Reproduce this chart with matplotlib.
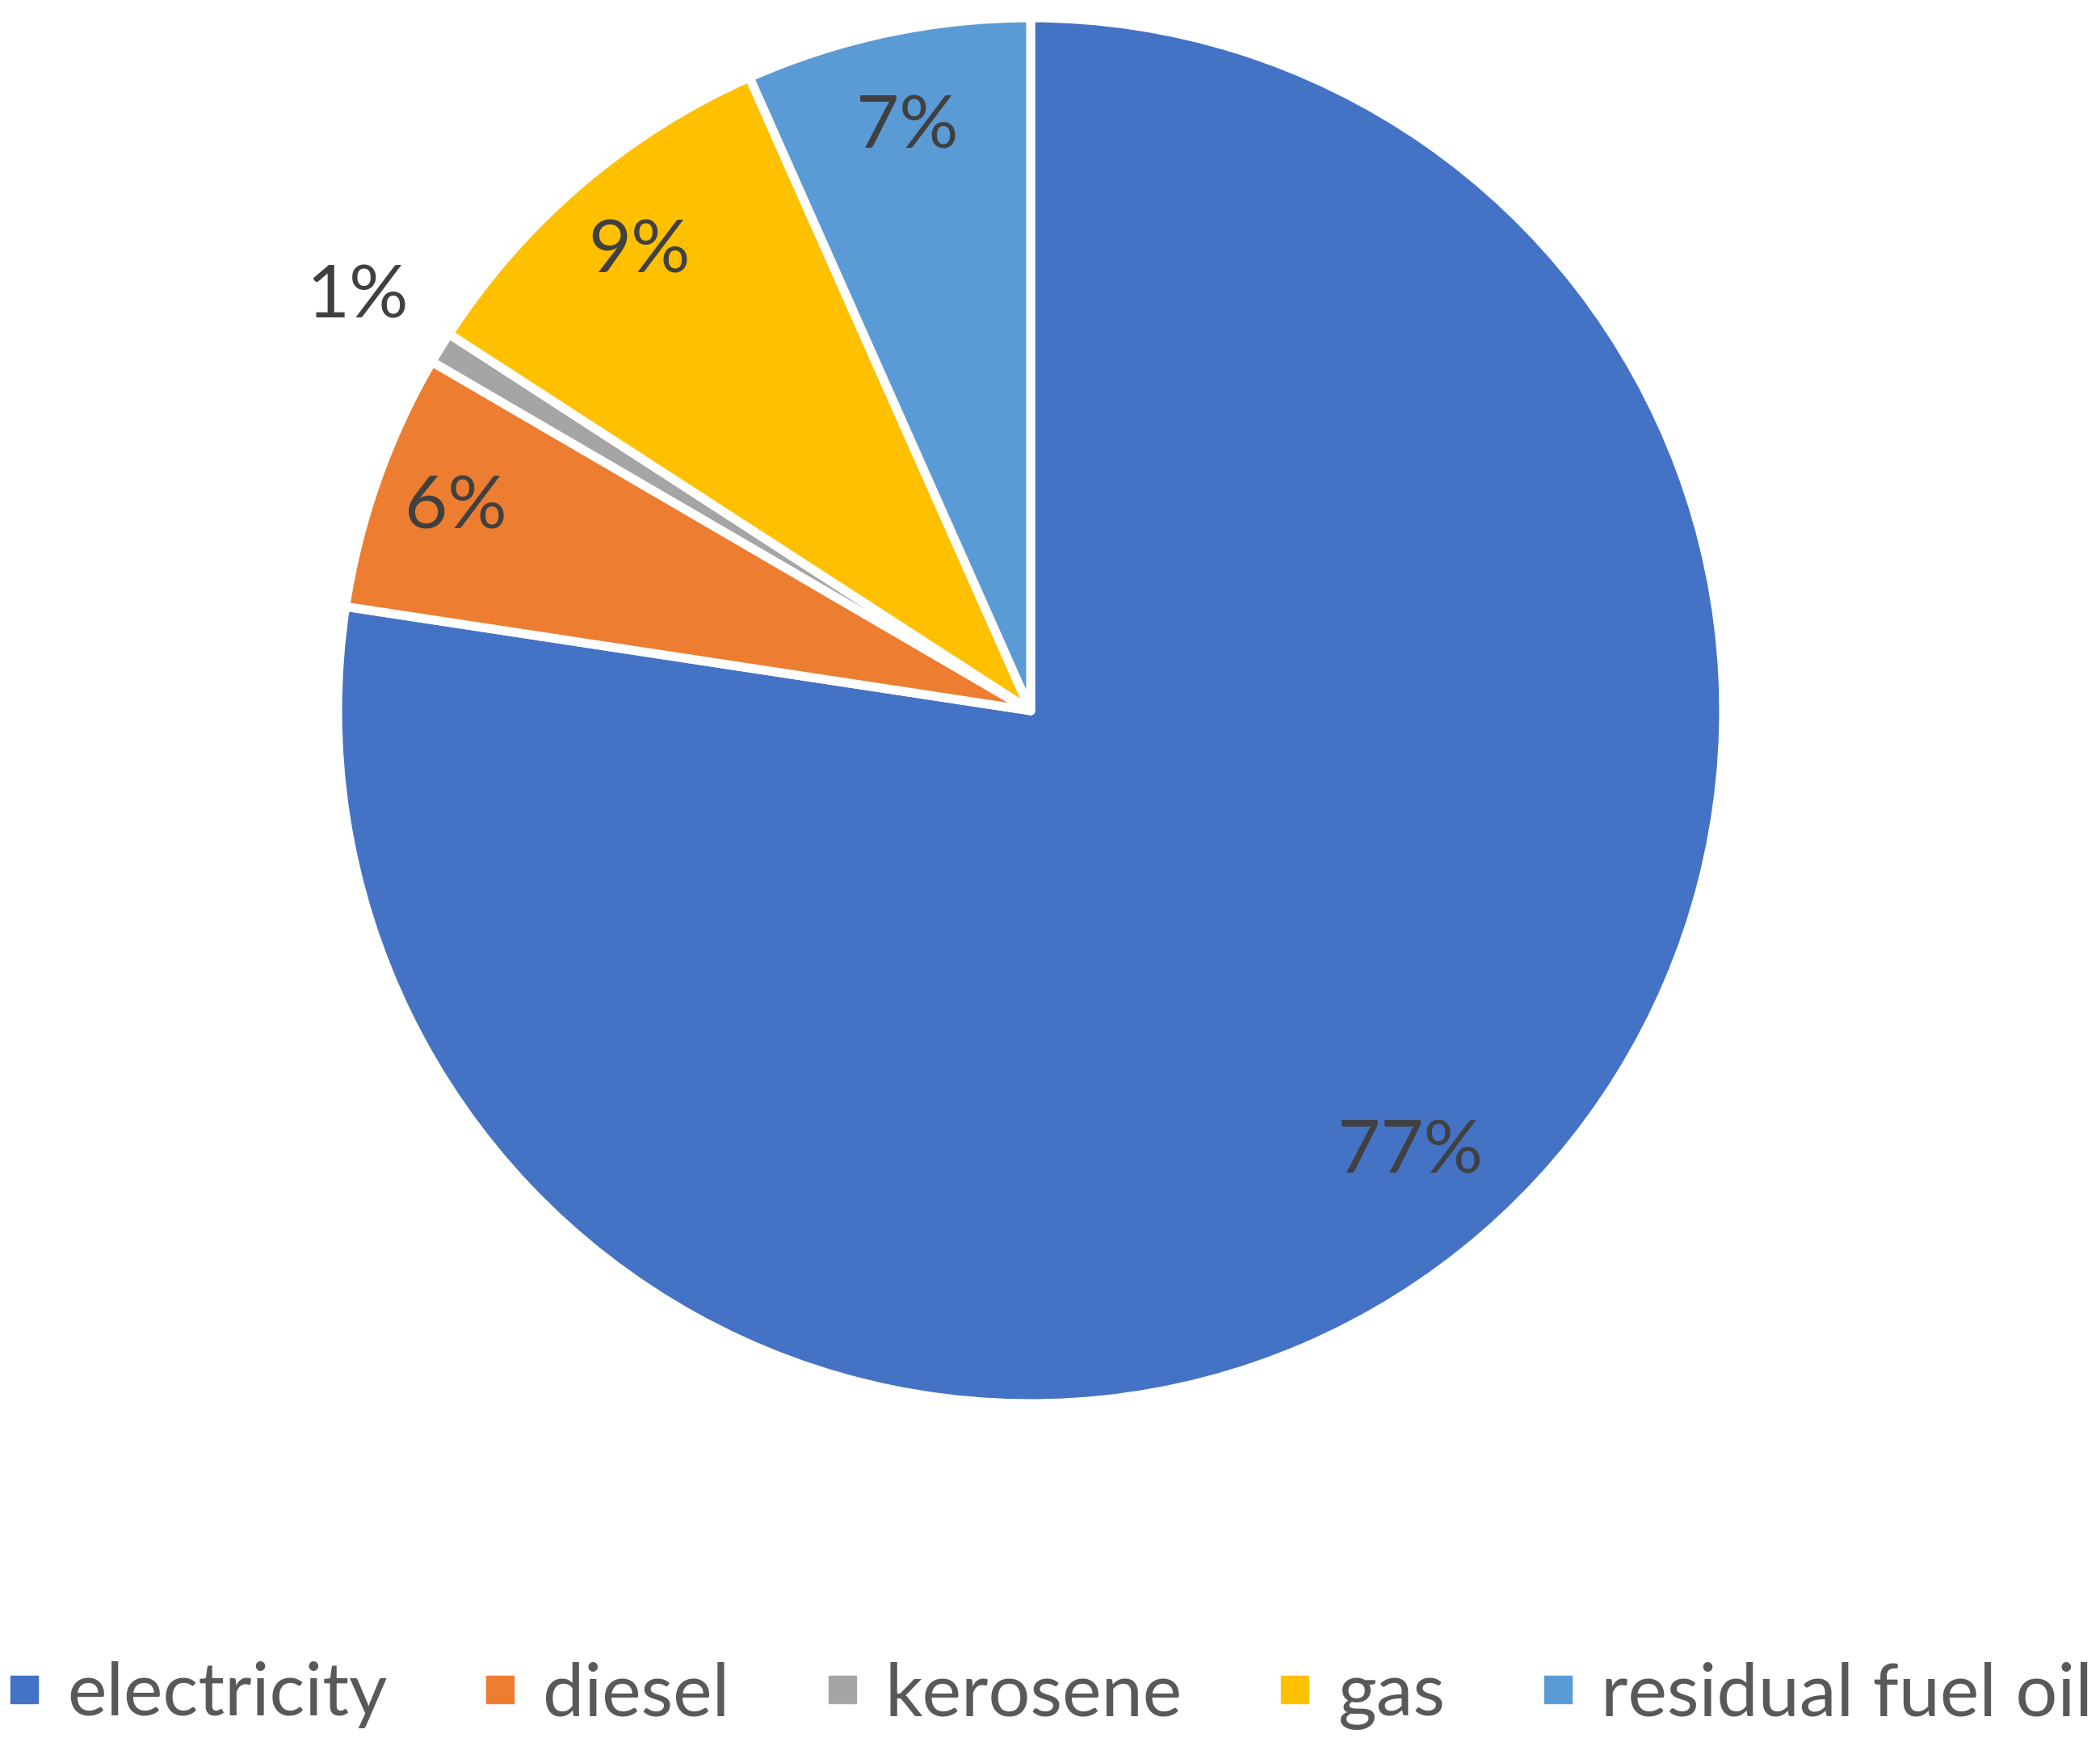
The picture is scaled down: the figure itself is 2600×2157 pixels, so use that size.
import matplotlib
matplotlib.use("Agg")
import matplotlib.pyplot as plt
from matplotlib.lines import Line2D
import numpy as np

categories = ["electricity", "diesel", "kerosene", "gas", "residual fuel oil"]
values = [77.4, 6.0, 0.75, 9.2, 6.65]
colors = ["#4472C4", "#ED7D31", "#A5A5A5", "#FFC000", "#5B9BD5"]

plt.rcParams['font.family'] = ['Lato', 'DejaVu Sans']

W, H = 2600, 2157
fig = plt.figure(figsize=(W / 100, H / 100), dpi=100)
cx, cy, r = 1276, 880, 858
ax = fig.add_axes([(cx - r) / W, 1 - (cy + r) / H, 2 * r / W, 2 * r / H])

wedges, texts, autotexts = ax.pie(
    values, colors=colors, startangle=90, counterclock=False,
    autopct=lambda p: f"{p:.0f}%", pctdistance=0.86,
    wedgeprops=dict(edgecolor="white", linewidth=8, joinstyle='round'),
    textprops=dict(fontsize=66, color="#404040"))
ax.set_xlim(-1, 1)
ax.set_ylim(-1, 1)
ax.set_aspect('equal')

dist = [0.84, 0.88, 1.14, 0.87, 0.86]
for w, t, d in zip(wedges, autotexts, dist):
    th = np.deg2rad((w.theta1 + w.theta2) / 2)
    t.set_position((d * np.cos(th), d * np.sin(th)))
    t.set_ha('center'); t.set_va('center')

handles = [Line2D([], [], marker='s', linestyle='none', markersize=25,
                  markerfacecolor=c, markeredgecolor=c) for c in colors]
leg = fig.legend(handles, categories, loc='center', bbox_to_anchor=(0.5, 1 - 2100 / H),
                 ncol=5, frameon=False, fontsize=66, handlelength=0.45,
                 handletextpad=0.35, columnspacing=1.3, labelcolor="#595959")

fig.savefig("out.png", dpi=100, facecolor="white")
